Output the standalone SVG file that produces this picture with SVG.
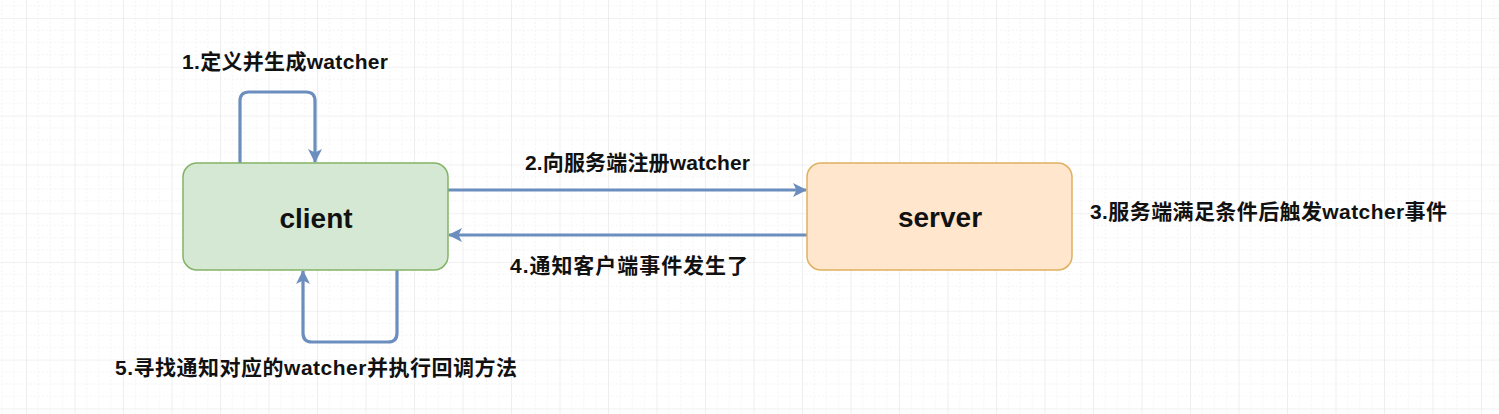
<svg xmlns="http://www.w3.org/2000/svg" width="1499" height="414" viewBox="0 0 1499 414">
<defs>
<pattern id="grid" x="26" y="18" width="48.5" height="48.8" patternUnits="userSpaceOnUse">
<path d="M0,0 V48.8 M0,0 H48.5" fill="none" stroke="#e3e3e3" stroke-width="1.2"/>
<path d="M12.1,0 V48.8 M24.2,0 V48.8 M36.4,0 V48.8 M0,12.2 H48.5 M0,24.4 H48.5 M0,36.6 H48.5" fill="none" stroke="#f3f3f3" stroke-width="1" stroke-dasharray="2 2"/>
</pattern>
<marker id="arr" viewBox="0 0 14 14" refX="13" refY="7" markerWidth="14" markerHeight="14" markerUnits="userSpaceOnUse" orient="auto">
<path d="M0,0 L14,7 L0,14 L3.5,7 Z" fill="#6c8ebf"/>
</marker>
</defs>
<style>
.lbl{font-family:"Liberation Sans","Noto Sans CJK SC",sans-serif;font-weight:bold;font-size:21px;fill:#111}
.node{font-family:"Liberation Sans","Noto Sans CJK SC",sans-serif;font-weight:bold;font-size:28px;fill:#111;text-anchor:middle}
.edge{fill:none;stroke:#6c8ebf;stroke-width:3.2;marker-end:url(#arr)}
</style>
<rect width="1499" height="414" fill="#ffffff"/>
<rect width="1499" height="414" fill="url(#grid)"/>
<g id="connectors">
<path class="edge" d="M240,163 V101 Q240,92 249,92 H306 Q315,92 315,101 V162"/>
<path class="edge" d="M448,190 H806"/>
<path class="edge" d="M807,235 H449"/>
<path class="edge" d="M397,270 V333 Q397,342 388,342 H312 Q303,342 303,333 V271"/>
</g>
<g id="client">
<rect x="183" y="163" width="265" height="107" rx="14" fill="#d5e8d4" stroke="#82b366" stroke-width="1.5"/>
<text class="node" x="316" y="228">client</text>
</g>
<g id="server">
<rect x="807" y="163" width="265" height="107" rx="14" fill="#ffe6cc" stroke="#e0b060" stroke-width="1.5"/>
<text class="node" x="940" y="227">server</text>
</g>
<g id="labels">
<text class="lbl" x="182" y="69" textLength="206" lengthAdjust="spacing">1.定义并生成watcher</text>
<text class="lbl" x="525" y="170" textLength="225" lengthAdjust="spacing">2.向服务端注册watcher</text>
<text class="lbl" x="1090" y="219" textLength="357" lengthAdjust="spacing">3.服务端满足条件后触发watcher事件</text>
<text class="lbl" x="510" y="273" textLength="238" lengthAdjust="spacing">4.通知客户端事件发生了</text>
<text class="lbl" x="115" y="375" textLength="402" lengthAdjust="spacing">5.寻找通知对应的watcher并执行回调方法</text>
</g>
</svg>
